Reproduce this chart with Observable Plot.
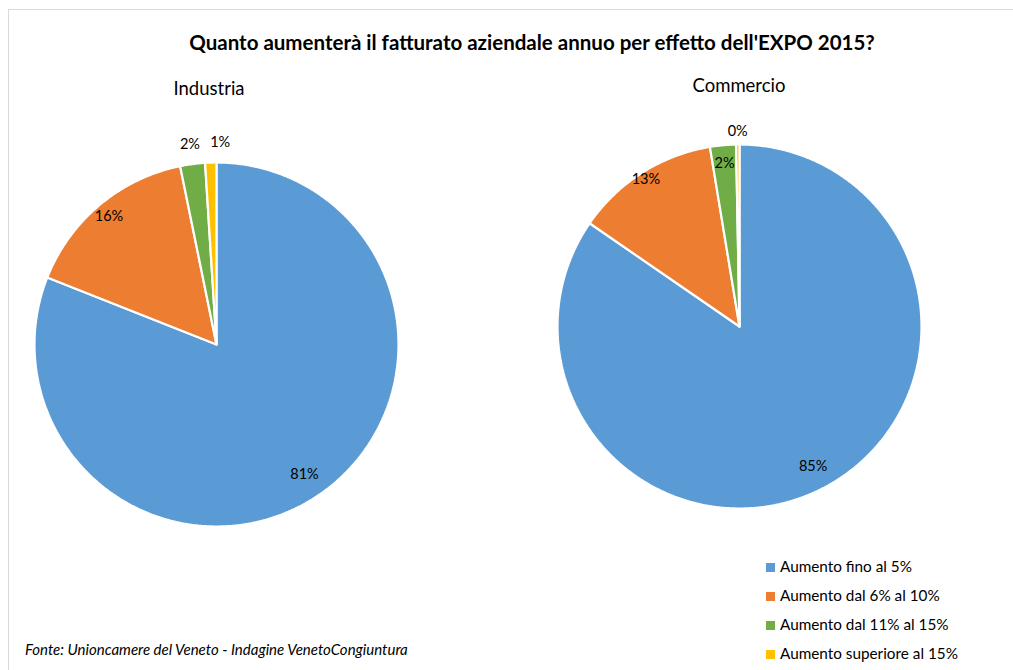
<!DOCTYPE html>
<html><head><meta charset="utf-8">
<script src="https://cdn.jsdelivr.net/npm/d3@7"></script>
<script src="https://cdn.jsdelivr.net/npm/@observablehq/plot@0.6"></script>
<style>
body{margin:0;background:#fff;}
#wrap{position:relative;width:1013px;height:670px;overflow:hidden;font-family:Lato,"Liberation Sans",Arial,sans-serif;color:#000;background:#fff;}
#frame{position:absolute;left:8px;top:9px;width:1100px;height:700px;border:1px solid #d9d9d9;}
#title{position:absolute;top:30px;left:0;width:1064px;text-align:center;font-weight:bold;font-size:20.5px;white-space:nowrap;}
.sub{position:absolute;font-size:18.5px;text-align:center;width:200px;white-space:nowrap;}
#chart{position:absolute;left:0;top:100px;}
#legend{position:absolute;left:766px;top:557px;font-size:15.3px;}
.li{height:29px;display:flex;align-items:flex-start;white-space:nowrap;}
.sw{width:9px;height:9px;margin-right:5px;margin-top:6px;}
#source{position:absolute;left:25px;top:640px;font-style:italic;font-size:15px;white-space:nowrap;}
</style>
</head><body>
<div id="wrap">
  <div id="frame"></div>
  <div id="title"></div>
  <div id="chart"></div>
  <div id="legend"></div>
  <div id="source"></div>
</div>
<script>
// ---- data ----
const titleText = "Quanto aumenterà il fatturato aziendale annuo per effetto dell'EXPO 2015?";
const sourceText = "Fonte: Unioncamere del Veneto - Indagine VenetoCongiuntura";
const categories = ["Aumento fino al 5%", "Aumento dal 6% al 10%", "Aumento dal 11% al 15%", "Aumento superiore al 15%"];
const charts = ["Industria", "Commercio"];
const industria = [81.0, 15.8, 2.2, 1.0];
const commercio = [84.6, 12.8, 2.3, 0.3];
const colors = ["#5B9BD5", "#ED7D31", "#70AD47", "#FFC000"];

// ---- layout ----
const W = 1013, H = 450, TOP = 100, R = 182;
const centers = {Industria: [216, 344], Commercio: [739, 326]}; // page px
const labelRadius = {Industria: [0.86, 0.92, 1.11, 1.11], Commercio: [0.87, 0.96, 0.9, 1.07]};
const labelNudge = {Industria: [0, 0, 0, 10], Commercio: [0, 0, 0, 0]}; // px
const subtitlePos = {Industria: [209, 77], Commercio: [739, 74]};

document.getElementById("title").textContent = titleText;
document.getElementById("source").textContent = sourceText;
const wrap = document.getElementById("wrap");
charts.forEach(c => {
  const d = document.createElement("div");
  d.className = "sub"; d.textContent = c;
  d.style.left = (subtitlePos[c][0] - 100) + "px"; d.style.top = subtitlePos[c][1] + "px";
  wrap.appendChild(d);
});

const series = {Industria: industria, Commercio: commercio};
const slices = [], labels = [];
charts.forEach(c => {
  const vals = series[c];
  const total = d3.sum(vals);
  const cx = centers[c][0] / R, cy = (TOP + H - centers[c][1]) / R;
  let cum = 0;
  vals.forEach((v, i) => {
    const a0 = cum / total * 2 * Math.PI, a1 = (cum + v) / total * 2 * Math.PI;
    cum += v;
    const key = c + "|" + i;
    slices.push({key, cat: categories[i], x: cx, y: cy});
    const n = Math.max(2, Math.ceil((a1 - a0) / (Math.PI / 360)));
    for (let k = 0; k <= n; k++) {
      const a = a0 + (a1 - a0) * k / n;
      slices.push({key, cat: categories[i], x: cx + Math.sin(a), y: cy + Math.cos(a)});
    }
    slices.push({key, cat: categories[i], x: cx, y: cy});
    const am = (a0 + a1) / 2, lr = labelRadius[c][i];
    labels.push({x: cx + lr * Math.sin(am) + labelNudge[c][i] / R, y: cy + lr * Math.cos(am), text: Math.round(v) + "%"});
  });
});

const plot = Plot.plot({
  width: W, height: H,
  margin: 0,
  x: {domain: [0, W / R], axis: null},
  y: {domain: [0, H / R], axis: null},
  color: {domain: categories, range: colors},
  style: {fontFamily: "Lato, Liberation Sans, Arial, sans-serif", background: "transparent"},
  marks: [
    Plot.line(slices, {x: "x", y: "y", z: "key", fill: "cat", stroke: "white", strokeWidth: 2.2, strokeLinejoin: "miter", curve: "linear"}),
    Plot.text(labels, {x: "x", y: "y", text: "text", fontSize: 14.5, fill: "#000"})
  ]
});
document.getElementById("chart").appendChild(plot);

const lg = document.getElementById("legend");
categories.forEach((c, i) => {
  const row = document.createElement("div"); row.className = "li";
  const sw = document.createElement("div"); sw.className = "sw"; sw.style.background = colors[i];
  const t = document.createElement("span"); t.textContent = c;
  row.appendChild(sw); row.appendChild(t); lg.appendChild(row);
});
</script>
</body></html>
